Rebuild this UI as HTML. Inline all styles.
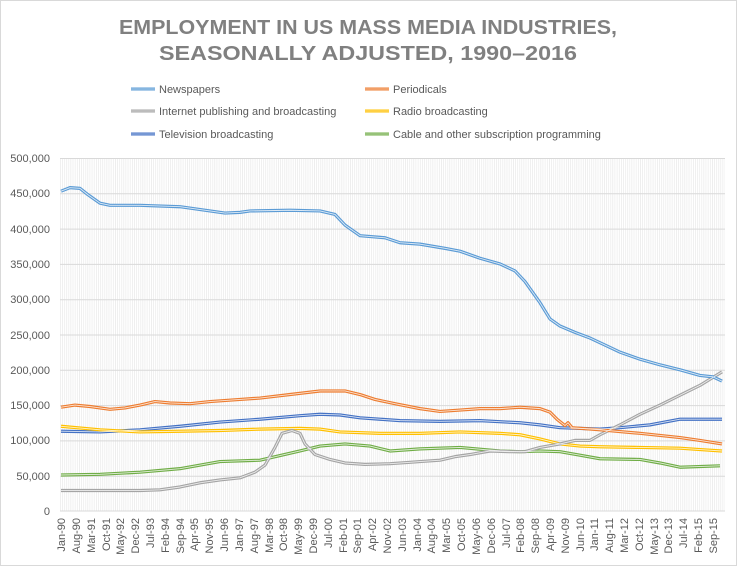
<!DOCTYPE html>
<html><head><meta charset="utf-8"><style>
body{margin:0;background:#fff}
svg{display:block;font-family:"Liberation Sans",sans-serif}
</style></head><body>
<svg width="737" height="566" viewBox="0 0 737 566" xmlns="http://www.w3.org/2000/svg">
<defs>
<pattern id="vg" x="60" y="0" width="2.117" height="10" patternUnits="userSpaceOnUse">
<rect x="0" y="0" width="0.6" height="10" fill="#e6e6e6"/>
</pattern>
</defs>
<rect x="0.5" y="0.5" width="736" height="565" fill="#fff" stroke="#d9d9d9"/>
<text x="368" y="34" text-anchor="middle" font-size="20" font-weight="bold" fill="#808080" textLength="498" lengthAdjust="spacingAndGlyphs">EMPLOYMENT IN US MASS MEDIA INDUSTRIES,</text>
<text x="368" y="60" text-anchor="middle" font-size="20" font-weight="bold" fill="#808080" textLength="418" lengthAdjust="spacingAndGlyphs">SEASONALLY ADJUSTED, 1990–2016</text>

<g font-size="11" fill="#595959">
<line x1="131" y1="89" x2="155" y2="89" stroke="#5b9bd5" stroke-width="3"/><line x1="131" y1="89" x2="155" y2="89" stroke="#fff" stroke-width="0.7" opacity="0.7"/>
<text x="159" y="93">Newspapers</text>
<line x1="365" y1="89" x2="389" y2="89" stroke="#ed7d31" stroke-width="3"/><line x1="365" y1="89" x2="389" y2="89" stroke="#fff" stroke-width="0.7" opacity="0.7"/>
<text x="393" y="93">Periodicals</text>
<line x1="131" y1="111" x2="155" y2="111" stroke="#a5a5a5" stroke-width="3"/><line x1="131" y1="111" x2="155" y2="111" stroke="#fff" stroke-width="0.7" opacity="0.7"/>
<text x="159" y="115">Internet publishing and broadcasting</text>
<line x1="365" y1="111" x2="389" y2="111" stroke="#ffc000" stroke-width="3"/><line x1="365" y1="111" x2="389" y2="111" stroke="#fff" stroke-width="0.7" opacity="0.7"/>
<text x="393" y="115">Radio broadcasting</text>
<line x1="131" y1="134" x2="155" y2="134" stroke="#4472c4" stroke-width="3"/><line x1="131" y1="134" x2="155" y2="134" stroke="#fff" stroke-width="0.7" opacity="0.7"/>
<text x="159" y="138">Television broadcasting</text>
<line x1="365" y1="134" x2="389" y2="134" stroke="#70ad47" stroke-width="3"/><line x1="365" y1="134" x2="389" y2="134" stroke="#fff" stroke-width="0.7" opacity="0.7"/>
<text x="393" y="138">Cable and other subscription programming</text>
</g>

<rect x="60" y="158" width="665" height="353" fill="url(#vg)"/>
<g stroke="#d9d9d9" stroke-width="1">
<line x1="60" y1="158.5" x2="725" y2="158.5"/>
<line x1="60" y1="193.8" x2="725" y2="193.8"/>
<line x1="60" y1="229.1" x2="725" y2="229.1"/>
<line x1="60" y1="264.4" x2="725" y2="264.4"/>
<line x1="60" y1="299.7" x2="725" y2="299.7"/>
<line x1="60" y1="335" x2="725" y2="335"/>
<line x1="60" y1="370.3" x2="725" y2="370.3"/>
<line x1="60" y1="405.6" x2="725" y2="405.6"/>
<line x1="60" y1="440.9" x2="725" y2="440.9"/>
<line x1="60" y1="476.2" x2="725" y2="476.2"/>
<line x1="60" y1="511" x2="725" y2="511"/>
</g>
<g font-size="11" fill="#595959" text-anchor="end">
<text x="50" y="162">500,000</text>
<text x="50" y="197">450,000</text>
<text x="50" y="233">400,000</text>
<text x="50" y="268">350,000</text>
<text x="50" y="303">300,000</text>
<text x="50" y="339">250,000</text>
<text x="50" y="374">200,000</text>
<text x="50" y="409">150,000</text>
<text x="50" y="444">100,000</text>
<text x="50" y="480">50,000</text>
<text x="50" y="515">0</text>
</g>

<g transform="translate(0,511) scale(1,-0.706)" fill="none" stroke-linejoin="round">
<g stroke-width="3.2">
<polyline vector-effect="non-scaling-stroke" stroke="#70ad47" points="61,51 100,52 140,55 180,60 220,70 260,72 300,85 320,92 345,95 370,92 390,85 420,88 460,90 500,85 520,84 540,85 560,84 580,79 600,74 640,73 660,68 680,62 720,64"/>
<polyline vector-effect="non-scaling-stroke" stroke="#4472c4" points="61,113 100,112 140,115 180,120 220,126 260,130 300,135 320,137 340,136 360,132 400,128 440,127 480,128 520,125 540,122 560,118 580,117 600,116 620,118 650,122 680,130 700,130 722,130"/>
<polyline vector-effect="non-scaling-stroke" stroke="#ffc000" points="61,120 100,115 140,112 180,113 220,114 260,116 300,117 320,116 340,112 380,110 420,110 460,112 500,110 520,108 540,102 560,95 580,92 600,91 640,90 680,89 700,87 722,85"/>
<polyline vector-effect="non-scaling-stroke" stroke="#a5a5a5" points="61,29 100,29 140,29 160,30 180,34 200,40 220,44 240,47 255,55 265,65 275,90 282,110 292,114 300,110 305,95 315,80 330,73 345,68 365,66 390,67 410,69 420,70 440,72 455,77 470,80 490,85 510,84 525,84 540,90 560,95 575,100 590,100 600,108 620,122 640,137 660,150 680,164 700,178 722,197"/>
<polyline vector-effect="non-scaling-stroke" stroke="#ed7d31" points="61,147 75,150 90,148 110,144 125,146 140,150 155,155 170,153 190,152 210,155 240,158 260,160 290,165 320,170 345,170 360,165 375,158 395,152 420,145 440,141 460,143 480,145 500,145 520,147 540,145 550,140 557,130 565,121 568,125 572,118 600,115 640,110 680,104 700,100 722,95"/>
<polyline vector-effect="non-scaling-stroke" stroke="#5b9bd5" points="61,453 70,458 80,457 88,448 100,436 110,433 140,433 180,431 210,425 225,422 240,423 250,425 290,426 320,425 335,420 345,405 360,390 385,387 400,380 420,378 445,372 460,368 480,358 500,350 515,340 525,325 540,295 550,272 560,262 575,253 590,245 605,235 620,225 640,215 660,207 680,200 700,192 713,190 722,184"/>
</g>
<g stroke="#fff" stroke-width="0.9" opacity="0.8">
<polyline vector-effect="non-scaling-stroke" points="61,51 100,52 140,55 180,60 220,70 260,72 300,85 320,92 345,95 370,92 390,85 420,88 460,90 500,85 520,84 540,85 560,84 580,79 600,74 640,73 660,68 680,62 720,64"/>
<polyline vector-effect="non-scaling-stroke" points="61,113 100,112 140,115 180,120 220,126 260,130 300,135 320,137 340,136 360,132 400,128 440,127 480,128 520,125 540,122 560,118 580,117 600,116 620,118 650,122 680,130 700,130 722,130"/>
<polyline vector-effect="non-scaling-stroke" points="61,120 100,115 140,112 180,113 220,114 260,116 300,117 320,116 340,112 380,110 420,110 460,112 500,110 520,108 540,102 560,95 580,92 600,91 640,90 680,89 700,87 722,85"/>
<polyline vector-effect="non-scaling-stroke" points="61,29 100,29 140,29 160,30 180,34 200,40 220,44 240,47 255,55 265,65 275,90 282,110 292,114 300,110 305,95 315,80 330,73 345,68 365,66 390,67 410,69 420,70 440,72 455,77 470,80 490,85 510,84 525,84 540,90 560,95 575,100 590,100 600,108 620,122 640,137 660,150 680,164 700,178 722,197"/>
<polyline vector-effect="non-scaling-stroke" points="61,147 75,150 90,148 110,144 125,146 140,150 155,155 170,153 190,152 210,155 240,158 260,160 290,165 320,170 345,170 360,165 375,158 395,152 420,145 440,141 460,143 480,145 500,145 520,147 540,145 550,140 557,130 565,121 568,125 572,118 600,115 640,110 680,104 700,100 722,95"/>
<polyline vector-effect="non-scaling-stroke" points="61,453 70,458 80,457 88,448 100,436 110,433 140,433 180,431 210,425 225,422 240,423 250,425 290,426 320,425 335,420 345,405 360,390 385,387 400,380 420,378 445,372 460,368 480,358 500,350 515,340 525,325 540,295 550,272 560,262 575,253 590,245 605,235 620,225 640,215 660,207 680,200 700,192 713,190 722,184"/>
</g>
</g>

<g font-size="11" fill="#595959" text-anchor="end">
<text transform="translate(65,518) rotate(-90)">Jan-90</text>
<text transform="translate(80,518) rotate(-90)">Aug-90</text>
<text transform="translate(95,518) rotate(-90)">Mar-91</text>
<text transform="translate(110,518) rotate(-90)">Oct-91</text>
<text transform="translate(124,518) rotate(-90)">May-92</text>
<text transform="translate(139,518) rotate(-90)">Dec-92</text>
<text transform="translate(154,518) rotate(-90)">Jul-93</text>
<text transform="translate(169,518) rotate(-90)">Feb-94</text>
<text transform="translate(184,518) rotate(-90)">Sep-94</text>
<text transform="translate(198,518) rotate(-90)">Apr-95</text>
<text transform="translate(213,518) rotate(-90)">Nov-95</text>
<text transform="translate(228,518) rotate(-90)">Jun-96</text>
<text transform="translate(243,518) rotate(-90)">Jan-97</text>
<text transform="translate(258,518) rotate(-90)">Aug-97</text>
<text transform="translate(273,518) rotate(-90)">Mar-98</text>
<text transform="translate(287,518) rotate(-90)">Oct-98</text>
<text transform="translate(302,518) rotate(-90)">May-99</text>
<text transform="translate(317,518) rotate(-90)">Dec-99</text>
<text transform="translate(332,518) rotate(-90)">Jul-00</text>
<text transform="translate(347,518) rotate(-90)">Feb-01</text>
<text transform="translate(361,518) rotate(-90)">Sep-01</text>
<text transform="translate(376,518) rotate(-90)">Apr-02</text>
<text transform="translate(391,518) rotate(-90)">Nov-02</text>
<text transform="translate(406,518) rotate(-90)">Jun-03</text>
<text transform="translate(421,518) rotate(-90)">Jan-04</text>
<text transform="translate(435,518) rotate(-90)">Aug-04</text>
<text transform="translate(450,518) rotate(-90)">Mar-05</text>
<text transform="translate(465,518) rotate(-90)">Oct-05</text>
<text transform="translate(480,518) rotate(-90)">May-06</text>
<text transform="translate(495,518) rotate(-90)">Dec-06</text>
<text transform="translate(510,518) rotate(-90)">Jul-07</text>
<text transform="translate(524,518) rotate(-90)">Feb-08</text>
<text transform="translate(539,518) rotate(-90)">Sep-08</text>
<text transform="translate(554,518) rotate(-90)">Apr-09</text>
<text transform="translate(569,518) rotate(-90)">Nov-09</text>
<text transform="translate(584,518) rotate(-90)">Jun-10</text>
<text transform="translate(598,518) rotate(-90)">Jan-11</text>
<text transform="translate(613,518) rotate(-90)">Aug-11</text>
<text transform="translate(628,518) rotate(-90)">Mar-12</text>
<text transform="translate(643,518) rotate(-90)">Oct-12</text>
<text transform="translate(658,518) rotate(-90)">May-13</text>
<text transform="translate(672,518) rotate(-90)">Dec-13</text>
<text transform="translate(687,518) rotate(-90)">Jul-14</text>
<text transform="translate(702,518) rotate(-90)">Feb-15</text>
<text transform="translate(717,518) rotate(-90)">Sep-15</text>
</g>
</svg>
</body></html>
